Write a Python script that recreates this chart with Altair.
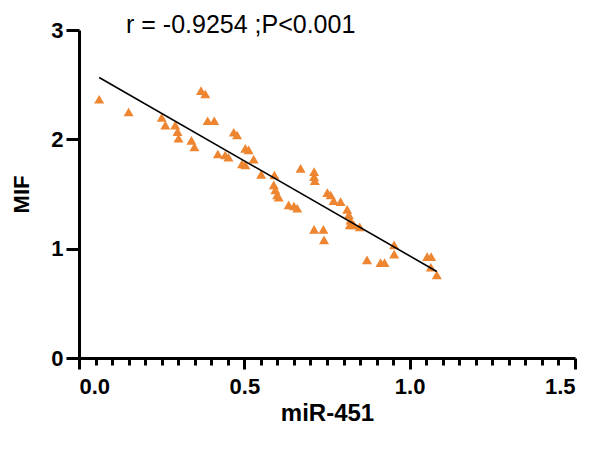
import altair as alt
import pandas as pd

# miR-451 (x) and MIF (y) values
mir451 = [0.061, 0.150, 0.250, 0.261, 0.291, 0.298, 0.301, 0.340, 0.349, 0.369,
          0.382, 0.389, 0.409, 0.420, 0.442, 0.452, 0.468, 0.478, 0.493, 0.503,
          0.503, 0.513, 0.528, 0.551, 0.591, 0.589, 0.594, 0.599, 0.604, 0.634,
          0.650, 0.660, 0.670, 0.711, 0.711, 0.713, 0.711, 0.739, 0.741, 0.751,
          0.761, 0.770, 0.791, 0.811, 0.816, 0.821, 0.819, 0.831, 0.849, 0.871,
          0.912, 0.924, 0.953, 0.953, 1.053, 1.065, 1.064, 1.082]
mif = [2.367, 2.250, 2.200, 2.130, 2.130, 2.070, 2.010, 1.990, 1.930, 2.445,
       2.415, 2.170, 2.170, 1.866, 1.857, 1.836, 2.065, 2.040, 1.775, 1.766,
       1.918, 1.903, 1.818, 1.680, 1.674, 1.583, 1.537, 1.491, 1.470, 1.400,
       1.390, 1.370, 1.735, 1.705, 1.659, 1.622, 1.177, 1.177, 1.080, 1.512,
       1.491, 1.440, 1.430, 1.360, 1.310, 1.260, 1.217, 1.217, 1.200, 0.897,
       0.872, 0.872, 1.034, 0.950, 0.927, 0.927, 0.830, 0.760]

x_major = [0.0, 0.5, 1.0, 1.5]
x_minor = [round(i * 0.05, 2) for i in range(31) if i % 10 != 0]
y_major = [0, 1, 2, 3]
annotation = ["r = -0.9254 ;P<0.001"]

df = pd.DataFrame({"x": mir451, "y": mif})
df_text = pd.DataFrame({"t": annotation})

FONT = "Liberation Sans"
ORANGE = "#EE8530"

xscale = alt.Scale(domain=[0, 1.5], nice=False, zero=False)
yscale = alt.Scale(domain=[0, 3], nice=False, zero=False)

points = alt.Chart(df).mark_point(
    shape="triangle-up", filled=True, color=ORANGE, opacity=1, size=100
).encode(
    x=alt.X("x:Q", scale=xscale, axis=alt.Axis(
        values=x_major, format=".1f", title="miR-451", tickSize=11,
        labelPadding=7, titlePadding=4, grid=False)),
    y=alt.Y("y:Q", scale=yscale, axis=alt.Axis(
        values=y_major, format="d", title="MIF", tickSize=13, labelPadding=3,
        titlePadding=17, titleFontSize=22, grid=False)),
)

line = alt.Chart(df).transform_regression("x", "y").mark_line(
    color="black", strokeWidth=1.6
).encode(
    x=alt.X("x:Q", scale=xscale),
    y=alt.Y("y:Q", scale=yscale),
)

minor = alt.Chart(df).mark_point(opacity=0).encode(
    x=alt.X("x:Q", scale=xscale, axis=alt.Axis(
        values=x_minor, labels=False, domain=False, tickSize=7, title="",
        grid=False, orient="bottom")),
    y=alt.Y("y:Q", scale=yscale),
)

text = alt.Chart(df_text).mark_text(
    font=FONT, fontSize=25, align="left", baseline="middle", color="black"
).encode(text="t:N", x=alt.value(47), y=alt.value(-5))

chart = alt.layer(alt.layer(points, line), minor, text).resolve_axis(
    x="independent"
).properties(
    width=496, height=328,
    padding={"left": 71, "top": 22, "right": 17, "bottom": 83},
    autosize=alt.AutoSizeParams(type="none"),
).configure_view(stroke=None).configure_axis(
    domainColor="black", domainWidth=3, tickColor="black", tickWidth=3,
    labelFont=FONT, labelFontWeight="bold", labelFontSize=22, labelColor="black",
    titleFont=FONT, titleFontWeight="bold", titleFontSize=24, titleColor="black",
)

chart.save("out.html", embed_options={"renderer": "svg", "actions": False})
